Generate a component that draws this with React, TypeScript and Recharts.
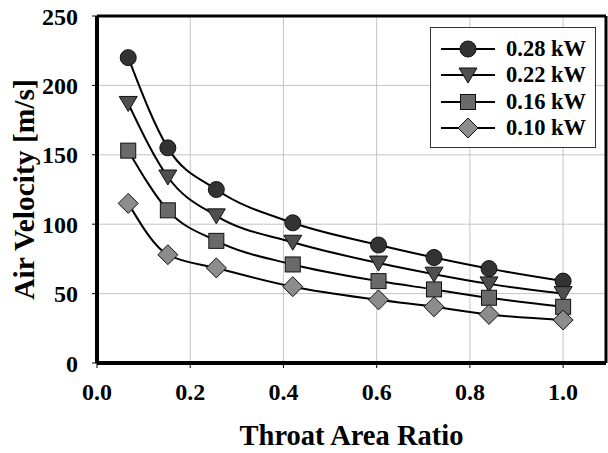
import { LineChart, Line, XAxis, YAxis, CartesianGrid, Legend, ReferenceLine } from "recharts";

const throatRatio = [0.067, 0.152, 0.256, 0.42, 0.604, 0.723, 0.841, 1.0];
const kw028 = [220, 155, 125, 101, 85, 76, 68, 59];
const kw022 = [187, 134, 106, 87, 72, 64, 57, 50];
const kw016 = [153, 110, 88, 71, 59, 53, 47, 40.5];
const kw010 = [115, 78, 68.5, 55, 45.5, 40.5, 35, 31];

const xTicks = [0, 0.2, 0.4, 0.6, 0.8, 1.0];
const yTicks = [0, 50, 100, 150, 200, 250];
const xMax = 1.092;

const series = [
  { key: "p28", name: "0.28 kW", values: kw028, shape: "circle", fill: "#333333" },
  { key: "p22", name: "0.22 kW", values: kw022, shape: "triangle", fill: "#4f4f4f" },
  { key: "p16", name: "0.16 kW", values: kw016, shape: "square", fill: "#6a6a6a" },
  { key: "p10", name: "0.10 kW", values: kw010, shape: "diamond", fill: "#8c8c8c" },
];

const data = throatRatio.map((x, i) => {
  const row: any = { x };
  series.forEach((s) => (row[s.key] = s.values[i]));
  return row;
});

const font = "'Liberation Serif', 'Times New Roman', serif";

function Marker({ shape, cx, cy, fill }: { shape: string; cx: number; cy: number; fill: string }) {
  const stroke = "#111";
  if (shape === "circle") return <circle cx={cx} cy={cy} r={8} fill={fill} stroke={stroke} strokeWidth={1} />;
  if (shape === "triangle")
    return <polygon points={`${cx - 9},${cy - 7} ${cx + 9},${cy - 7} ${cx},${cy + 8}`} fill={fill} stroke={stroke} strokeWidth={1} />;
  if (shape === "square") return <rect x={cx - 7.5} y={cy - 7.5} width={15} height={15} fill={fill} stroke={stroke} strokeWidth={1} />;
  return <polygon points={`${cx},${cy - 10} ${cx + 10},${cy} ${cx},${cy + 10} ${cx - 10},${cy}`} fill={fill} stroke={stroke} strokeWidth={1} />;
}

const makeDot = (shape: string, fill: string) => (props: any) => {
  const { cx, cy, index } = props;
  if (cx == null || cy == null) return <g key={index} />;
  return <Marker key={index} shape={shape} cx={cx} cy={cy} fill={fill} />;
};

const LegendBox = () => (
  <div style={{ width: 166, height: 121, border: "1px solid #333", background: "#fff", boxSizing: "border-box", position: "relative" }}>
    {series.map((s, i) => (
      <div key={s.key} style={{ position: "absolute", left: 0, top: 8 + i * 26.3, height: 26, width: 166 }}>
        <svg width={70} height={26} style={{ position: "absolute", left: 8, top: 0 }}>
          <line x1={2} y1={13} x2={56} y2={13} stroke="#000" strokeWidth={2} />
          <Marker shape={s.shape} cx={29} cy={13} fill={s.fill} />
        </svg>
        <span style={{ position: "absolute", left: 75, top: 0, lineHeight: "26px", fontFamily: font, fontWeight: "bold", fontSize: 22.5, color: "#000", whiteSpace: "nowrap" }}>
          {s.name}
        </span>
      </div>
    ))}
  </div>
);

const YTitle = (props: any) => {
  const vb = props.viewBox;
  const cx = 34;
  const cy = vb.y + vb.height / 2;
  return (
    <text x={cx} y={cy} transform={`rotate(-90 ${cx} ${cy})`} textAnchor="middle" fontFamily={font} fontWeight="bold" fontSize={29.5} fill="#000">
      Air Velocity [m/s]
    </text>
  );
};

export default function App() {
  return (
    <div style={{ position: "absolute", left: 0, top: 0, width: 608, height: 453, background: "#fff" }}>
      <LineChart width={608} height={453} data={data} margin={{ top: 16, right: 2, left: 0, bottom: 0 }}>
        <CartesianGrid stroke="#c4c4c4" strokeWidth={1} />
        <XAxis
          dataKey="x"
          type="number"
          domain={[0, xMax]}
          ticks={xTicks}
          tickFormatter={(v: number) => v.toFixed(1)}
          height={90}
          axisLine={{ stroke: "#000", strokeWidth: 4 }}
          tickLine={{ stroke: "#000", strokeWidth: 1 }}
          tickSize={5}
          tickMargin={15}
          tick={{ fill: "#000", fontFamily: font, fontWeight: "bold", fontSize: 24 }}
          label={{ value: "Throat Area Ratio", position: "insideBottom", offset: 8, fill: "#000", fontFamily: font, fontWeight: "bold", fontSize: 28.5 }}
        />
        <YAxis
          type="number"
          domain={[0, 250]}
          ticks={yTicks}
          width={97}
          axisLine={{ stroke: "#000", strokeWidth: 4 }}
          tickLine={{ stroke: "#000", strokeWidth: 1 }}
          tickSize={5}
          tickMargin={14}
          tick={{ fill: "#000", fontFamily: font, fontWeight: "bold", fontSize: 24 }}
          label={{ content: YTitle }}
        />
        <ReferenceLine y={250} stroke="#000" strokeWidth={3} />
        <ReferenceLine x={xMax} stroke="#000" strokeWidth={3} />
        <Legend
          layout="vertical"
          align="center"
          verticalAlign="middle"
          wrapperStyle={{ left: 430, top: 27, width: 166, height: 121 }}
          content={LegendBox}
        />
        {series.map((s) => (
          <Line
            key={s.key}
            dataKey={s.key}
            name={s.name}
            type="monotone"
            stroke="#000"
            strokeWidth={2}
            dot={makeDot(s.shape, s.fill)}
            activeDot={false}
            isAnimationActive={false}
          />
        ))}
      </LineChart>
    </div>
  );
}
